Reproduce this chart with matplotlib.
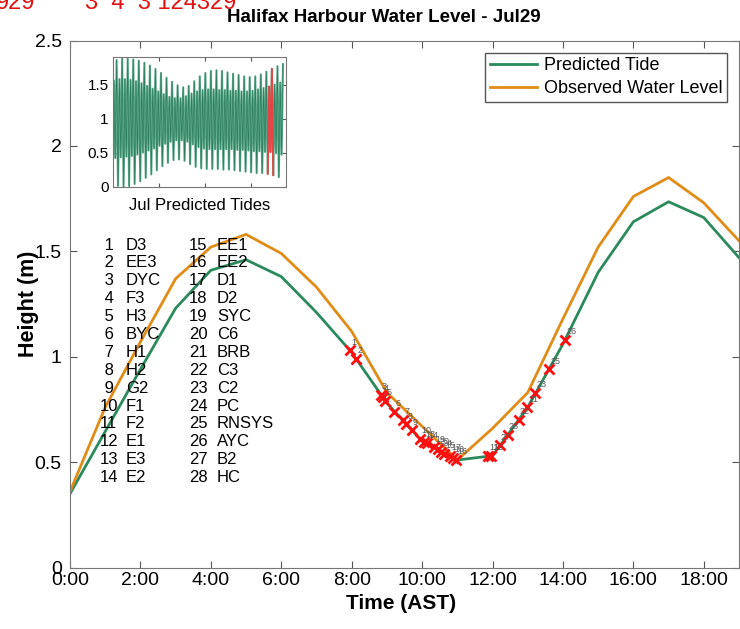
import numpy as np
import matplotlib.pyplot as plt

plt.rcParams['font.family'] = ['Liberation Sans', 'DejaVu Sans']

# hourly water levels for Jul 29 (m)
hours = np.arange(20)
predicted = [0.35, 0.645, 0.94, 1.23, 1.41, 1.46, 1.38, 1.21, 1.02, 0.78, 0.60, 0.51,
             0.53, 0.76, 1.06, 1.40, 1.64, 1.735, 1.66, 1.47]
observed = [0.36, 0.76, 1.07, 1.37, 1.52, 1.58, 1.49, 1.33, 1.12, 0.83, 0.67, 0.51,
            0.66, 0.83, 1.18, 1.52, 1.76, 1.85, 1.73, 1.55]

# stations and when they were sampled
station_names = ['D3', 'EE3', 'DYC', 'F3', 'H3', 'BYC', 'H1', 'H2', 'G2', 'F1', 'F2', 'E1',
                 'E3', 'E2', 'EE1', 'EE2', 'D1', 'D2', 'SYC', 'C6', 'BRB', 'C3', 'C2', 'PC',
                 'RNSYS', 'AYC', 'B2', 'HC']
visit_ids = [1, 2, 3, 4, 5, 6, 7, 8, 9, 10, 13, 14, 19, 20, 24, 15, 17, 18, 16,
             11, 12, 27, 28, 22, 21, 23, 25, 26]
visit_times = [7.94, 8.12, 8.82, 8.88, 8.95, 9.20, 9.45, 9.55, 9.70, 9.95, 10.05, 10.15,
               10.35, 10.45, 10.55, 10.62, 10.78, 10.88, 10.95,
               11.86, 11.97, 12.20, 12.43, 12.74, 12.99, 13.22, 13.60, 14.07]
visit_heights = [1.03, 0.99, 0.82, 0.81, 0.79, 0.74, 0.70, 0.68, 0.65, 0.61, 0.595, 0.59,
                 0.57, 0.56, 0.55, 0.54, 0.53, 0.52, 0.51,
                 0.53, 0.53, 0.58, 0.63, 0.70, 0.76, 0.83, 0.94, 1.08]

# July daily tide extremes (m): lower low, lower high, higher low, higher high
jul_ll = [0.03, 0.01, 0.00, 0.01, 0.04, 0.08, 0.13, 0.18, 0.24, 0.30, 0.35, 0.39, 0.40, 0.38,
          0.33, 0.29, 0.27, 0.26, 0.26, 0.26, 0.25, 0.25, 0.24, 0.23, 0.22, 0.21, 0.20, 0.20,
          0.19, 0.17, 0.14]
jul_lh = [1.56, 1.58, 1.58, 1.57, 1.55, 1.52, 1.48, 1.44, 1.40, 1.36, 1.32, 1.30, 1.30, 1.33,
          1.37, 1.40, 1.42, 1.43, 1.43, 1.42, 1.42, 1.41, 1.41, 1.40, 1.40, 1.41, 1.43, 1.45,
          1.47, 1.50, 1.53]
jul_hl = [0.42, 0.43, 0.44, 0.45, 0.47, 0.50, 0.53, 0.56, 0.60, 0.63, 0.66, 0.68, 0.68, 0.66,
          0.62, 0.58, 0.56, 0.55, 0.55, 0.55, 0.55, 0.55, 0.54, 0.54, 0.53, 0.52, 0.52, 0.51,
          0.51, 0.49, 0.47]
jul_hh = [1.86, 1.88, 1.88, 1.87, 1.85, 1.82, 1.78, 1.73, 1.67, 1.60, 1.54, 1.49, 1.46, 1.48,
          1.55, 1.62, 1.67, 1.70, 1.71, 1.70, 1.68, 1.66, 1.64, 1.62, 1.61, 1.62, 1.65, 1.69,
          1.73, 1.77, 1.80]
turn_hours = [-1, 5, 11, 17]
day_idx = 28

green = '#2a8a5c'
orange = '#e08c16'

fig = plt.figure(figsize=(7.4, 6.29), dpi=100)
ax = fig.add_axes([70 / 740, 61.5 / 629, 669 / 740, 527 / 629])

ax.plot(hours, predicted, color=green, lw=2, label='Predicted Tide')
ax.plot(hours, observed, color=orange, lw=2, label='Observed Water Level')
ax.plot(visit_times, visit_heights, 'x', color='#ff1010', ms=7, mew=2, zorder=5)
for sid, t, h in zip(visit_ids, visit_times, visit_heights):
    ax.annotate(str(sid), (t, h), xytext=(1, 4), textcoords='offset points',
                fontsize=6.5, color='#555555', zorder=6)

ax.set_xlim(0, 19)
ax.set_ylim(0, 2.5)
ax.set_xticks(np.arange(0, 19, 2))
ax.set_xticklabels(['%d:00' % h for h in range(0, 19, 2)])
ax.set_yticks([0, 0.5, 1, 1.5, 2, 2.5])
ax.set_yticklabels(['0', '0.5', '1', '1.5', '2', '2.5'])
ax.tick_params(direction='in', top=True, right=True, length=5, labelsize=14,
               color='#555555', pad=3)
ax.tick_params(axis='y', pad=6)
for s in ax.spines.values():
    s.set_color('#777777')
ax.set_xlabel('Time (AST)', fontsize=15, fontweight='bold')
ax.set_ylabel('Height (m)', fontsize=15.5, fontweight='bold')
ax.xaxis.set_label_coords(0.495, -0.05)
ax.yaxis.set_label_coords(-0.047, 0.5)

leg = ax.legend(loc='upper right', bbox_to_anchor=(0.982, 0.977), borderaxespad=0,
                fontsize=13, handlelength=2.6, handletextpad=0.4, labelspacing=0.33,
                borderpad=0.25, fancybox=False, edgecolor='#555555', framealpha=1)
leg.get_frame().set_linewidth(1)

fig.text(384 / 740, 1 - 18 / 629, 'Halifax Harbour Water Level - Jul29', ha='center',
         va='center', fontsize=13.5, fontweight='bold')
fig.text(-4 / 740, 1 - 9 / 629, '929', color='#e01010', fontsize=17, va='baseline')
fig.text(85 / 740, 1 - 9 / 629, '3  4  3 124329', color='#e01010', fontsize=17,
         va='baseline')

# station key, two columns of 14
for i, name in enumerate(station_names):
    col, row = divmod(i, 14)
    y = 1 - (245 + row * 17.9) / 629
    x_num = (100 + col * 89) / 740
    x_name = (126 + col * 91) / 740
    fig.text(x_num, y, '%2d' % (i + 1), fontsize=12, va='center')
    fig.text(x_name, y, name, fontsize=12, va='center')

# month of predicted tides, Jul 29 in red
ins = fig.add_axes([112.7 / 740, 442.3 / 629, 173.3 / 740, 129.4 / 629])
t_turn = np.add.outer(np.arange(31) * 24, turn_hours).ravel()
h_turn = np.column_stack([jul_ll, jul_lh, jul_hl, jul_hh]).ravel()
ins.plot(t_turn, h_turn, color='#5fab8d', lw=1.5)
ins.plot(t_turn, h_turn, color='#2c7d5d', lw=0.5)
sl = slice(day_idx * 4, day_idx * 4 + 5)
ins.plot(t_turn[sl], h_turn[sl], color='#e04848', lw=1.4)
ins.set_xlim(0, 750)
ins.set_ylim(0, 1.9)
ins.set_xticks([200, 400, 600])
ins.set_xticklabels([])
ins.set_yticks([0, 0.5, 1, 1.5])
ins.set_yticklabels(['0', '0.5', '1', '1.5'])
ins.tick_params(direction='in', top=True, right=True, length=3, labelsize=11,
                color='#555555', pad=3)
for s in ins.spines.values():
    s.set_color('#777777')
ins.set_xlabel('Jul Predicted Tides', fontsize=12, labelpad=5)

fig.savefig('out.png', dpi=100)
